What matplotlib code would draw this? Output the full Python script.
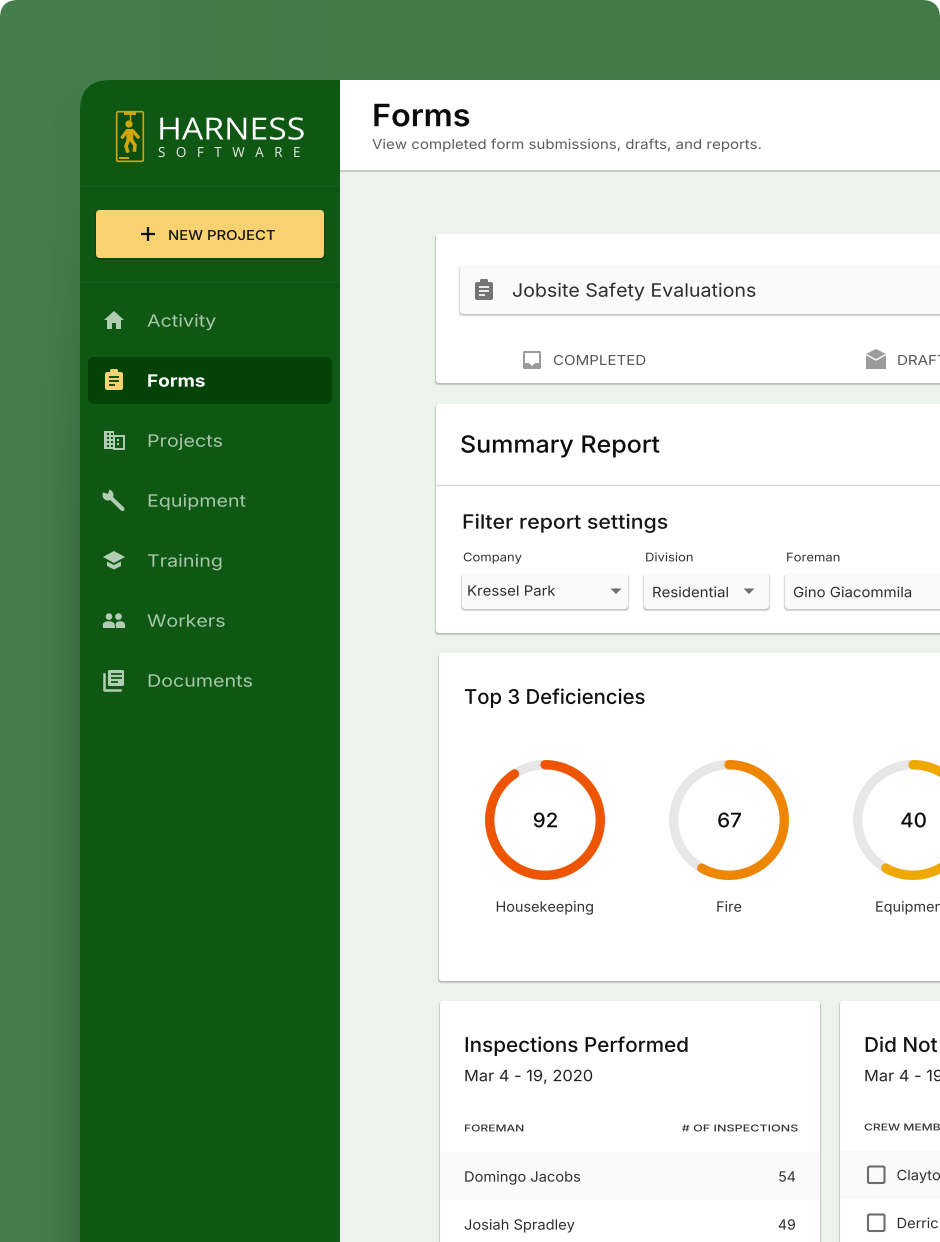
import numpy as np
import matplotlib
matplotlib.use("Agg")
import matplotlib.pyplot as plt
from matplotlib.patches import Rectangle, FancyBboxPatch, Polygon, Circle, Ellipse
from matplotlib.patheffects import AbstractPathEffect
from matplotlib.transforms import Affine2D

plt.rcParams["font.family"] = ["Inter", "DejaVu Sans"]

# sidebar
nav_labels = ["Activity", "Forms", "Projects", "Equipment", "Training", "Workers", "Documents"]
nav_y = [320, 380, 440, 500, 560, 620, 680]

# donuts
donut_labels = ["Housekeeping", "Fire"]
donut_values = [92, 67, 40]
donut_fill = [0.907, 0.582, 0.582]
donut_cx = [545, 729, 913]
donut_colors = ["#ed5503", "#ee8601", "#efa800"]

# filters
filter_labels = ["Company", "Division", "Foreman"]
filter_values = ["Kressel Park", "Residential", "Gino Giacommila"]

# tables
foremen = ["Domingo Jacobs", "Josiah Spradley"]
inspections = [54, 49]
crew = ["Clayto", "Derric"]

GREEN = "#0f5814"
BG = "#edf3ec"


class Widen(AbstractPathEffect):
    # stretches a text sideways around its anchor, stands in for letter spacing
    def __init__(self, x0, sx):
        super().__init__()
        self.x0 = x0
        self.sx = sx

    def draw_path(self, renderer, gc, tpath, affine, rgbFace=None):
        stretch = Affine2D().translate(-self.x0, 0).scale(self.sx, 1).translate(self.x0, 0)
        renderer.draw_path(gc, tpath, affine + stretch, rgbFace)


def rbox(ax, x0, y0, x1, y1, r, color, z=2, shadow=False):
    if shadow:
        for grow, alpha in [(1.6, 0.04), (1.0, 0.07), (0.4, 0.12)]:
            ax.add_patch(FancyBboxPatch((x0 - grow, y0 + 1), x1 - x0 + 2 * grow, y1 - y0 + grow,
                                        boxstyle=f"round,pad=0,rounding_size={r}",
                                        fc="black", ec="none", alpha=alpha, zorder=z))
    ax.add_patch(FancyBboxPatch((x0, y0), x1 - x0, y1 - y0,
                                boxstyle=f"round,pad=0,rounding_size={r}",
                                fc=color, ec="none", zorder=z))


def label(ax, x, y, s, size, color="#111111", ha="left", weight="normal", sx=1.0, family=None):
    # y is the middle of the capitals
    kw = {"family": family} if family else {}
    t = ax.text(x, y + 0.505 * size, s, fontsize=size, color=color, ha=ha, va="baseline",
                fontweight=weight, zorder=10, **kw)
    t.set_path_effects([Widen(x, sx)])
    return t


def hline(ax, x0, x1, y, color, lw):
    ax.plot([x0, x1], [y, y], color=color, lw=lw, zorder=10, solid_capstyle="butt")


def clipboard(ax, cx, cy, color, line):
    rbox(ax, cx - 9, cy - 8, cx + 9, cy + 10, 2, color, z=9)
    rbox(ax, cx - 4, cy - 11, cx + 4, cy - 6, 1.5, color, z=9)
    for dy, w in [(-3, 10), (1, 10), (5, 6)]:
        hline(ax, cx - 5, cx - 5 + w, cy + dy, line, 1.3)


def nav_icon(ax, name, cx, cy, c):
    if name == "Activity":
        ax.add_patch(Polygon([(cx - 10, cy), (cx, cy - 9), (cx + 10, cy), (cx + 7, cy), (cx + 7, cy + 9),
                              (cx + 2, cy + 9), (cx + 2, cy + 3), (cx - 2, cy + 3), (cx - 2, cy + 9),
                              (cx - 7, cy + 9), (cx - 7, cy)], fc=c, ec="none", zorder=9))
    elif name == "Forms":
        clipboard(ax, cx, cy, "#f8d271", "#044207")
    elif name == "Projects":
        ax.add_patch(Rectangle((cx - 10, cy - 9), 10, 18, fc=c, ec="none", zorder=9))
        ax.add_patch(Rectangle((cx, cy - 4), 9.5, 12.5, fc="none", ec=c, lw=1.4, zorder=9))
        for yy in [-6, -2, 2, 6]:
            for xx in [-7, -3]:
                ax.add_patch(Rectangle((cx + xx, cy + yy - 1), 2, 2, fc=GREEN, ec="none", zorder=10))
        for yy in [0, 4]:
            ax.add_patch(Rectangle((cx + 3, cy + yy - 1), 2, 2, fc=c, ec="none", zorder=10))
    elif name == "Equipment":
        ax.plot([cx - 5, cx + 8.5], [cy - 4, cy + 9], color=c, lw=3, zorder=9, solid_capstyle="round")
        ax.add_patch(Circle((cx - 6, cy - 5), 5.5, fc=c, ec="none", zorder=9))
        ax.add_patch(Polygon([(cx - 9, cy - 12), (cx - 4, cy - 12), (cx - 6, cy - 6), (cx - 12, cy - 8)],
                             fc=GREEN, ec="none", zorder=10))
    elif name == "Training":
        ax.add_patch(Polygon([(cx - 11, cy - 3), (cx, cy - 9), (cx + 11, cy - 3), (cx, cy + 3)],
                             fc=c, ec="none", zorder=9))
        ax.add_patch(Polygon([(cx - 7, cy + 1.5), (cx, cy + 5), (cx + 7, cy + 1.5), (cx + 7, cy + 6),
                              (cx, cy + 9.5), (cx - 7, cy + 6)], fc=c, ec="none", zorder=9))
    elif name == "Workers":
        for hx, x0, x1 in [(-5, -11.3, 0.5), (4.5, 1.5, 11)]:
            ax.add_patch(Circle((cx + hx, cy - 3.4), 3.3, fc=c, ec="none", zorder=9))
            ax.add_patch(Ellipse(((2 * cx + x0 + x1) / 2, cy + 4.5), x1 - x0, 6.5, fc=c, ec="none", zorder=9))
            ax.add_patch(Rectangle((cx + x0, cy + 4.5), x1 - x0, 3.2, fc=c, ec="none", zorder=9))
    elif name == "Documents":
        rbox(ax, cx - 6, cy - 10, cx + 10, cy + 6, 1.5, c, z=9)
        ax.plot([cx - 10, cx - 10, cx + 6], [cy - 6, cy + 10, cy + 10], color=c, lw=1.8, zorder=9)
        for dy, w in [(-6, 11), (-2, 11), (2, 7)]:
            hline(ax, cx - 3, cx - 3 + w, cy + dy, GREEN, 1.3)


def donut(ax, cx, cy, value, fill, color):
    t = np.linspace(0, 2 * np.pi, 361)
    ax.plot(cx + 55.3 * np.sin(t), cy - 55.3 * np.cos(t), color="#e7e7e7", lw=6.7, zorder=5)
    t = np.linspace(0, 2 * np.pi * fill, 300)
    ax.plot(cx + 55.3 * np.sin(t), cy - 55.3 * np.cos(t), color=color, lw=6.7, zorder=6,
            solid_capstyle="round")
    label(ax, cx + 0.5, cy, str(value), 14.4, "#0c0c0c", ha="center", weight="medium", sx=1.03)


def caret(ax, cx, cy):
    ax.add_patch(Polygon([(cx - 5.5, cy - 2.5), (cx + 5.5, cy - 2.5), (cx, cy + 3)], fc="#6f6f6f", ec="none", zorder=10))


fig = plt.figure(figsize=(9.4, 12.42), dpi=100)
ax = fig.add_axes([0, 0, 1, 1])
ax.set_xlim(0, 940)
ax.set_ylim(1242, 0)
ax.autoscale(False)
ax.axis("off")

# outer green panel with rounded top corners
panel = FancyBboxPatch((0, 0), 940, 1400, boxstyle="round,pad=0,rounding_size=18",
                       fc="#3f7a47", ec="none", zorder=0)
ax.add_patch(panel)
sheen = np.linspace(1, 0, 64).reshape(1, -1)
im = ax.imshow(np.ones((1, 64)), extent=(0, 500, 1242, 0), aspect="auto", zorder=0.5,
               alpha=sheen * 0.035, cmap="gray", vmin=0, vmax=1)
im.set_clip_path(panel)

# sidebar drop shadow, fades out towards the top
fx = np.linspace(0, 1, 64) ** 2
fy = np.clip(np.linspace(0, 1, 128) * 2.5, 0, 1)
ax.imshow(np.zeros((128, 64)), extent=(20, 80, 1242, 70), aspect="auto", zorder=0.8,
          alpha=np.outer(fy, fx) * 0.13, cmap="gray", vmin=0, vmax=1, origin="upper")

# sidebar and content area
ax.add_patch(FancyBboxPatch((80, 80), 500, 1300, boxstyle="round,pad=0,rounding_size=30",
                            fc=GREEN, ec="none", zorder=1))
ax.add_patch(Rectangle((340, 80), 600, 1170, fc=BG, ec="none", zorder=1.5))

# top bar
ax.add_patch(Rectangle((340, 80), 600, 90, fc="white", ec="none", zorder=2))
ax.plot([340, 940], [170.5, 170.5], color="#c0c4c0", lw=1.2, zorder=2, solid_capstyle="butt")
label(ax, 372, 115, "Forms", 22.2, "#0b0b0b", weight="semibold", sx=1.05)
label(ax, 372, 144, "View completed form submissions, drafts, and reports.", 9.8, "#5c5c5c", sx=1.105)

# logo
GOLD = "#cfa50a"
ax.add_patch(FancyBboxPatch((116.7, 111.7), 26.6, 49.6, boxstyle="round,pad=0,rounding_size=1.5",
                            fc="#0b4f10", ec=GOLD, lw=1.2, zorder=5))
ax.add_patch(Rectangle((124, 111), 12, 3.5, fc=GOLD, ec="none", zorder=6))
ax.add_patch(Circle((129, 124), 3.6, fc=GOLD, ec="none", zorder=6))
ax.plot([129.5, 129.5], [114, 121], color=GOLD, lw=1, zorder=6)
ax.plot([122.5, 127, 133, 138], [137, 131, 131, 137], color=GOLD, lw=2.4, zorder=6)
ax.plot([129.5, 130], [129, 141], color=GOLD, lw=5, zorder=6, solid_capstyle="butt")
ax.plot([128, 126, 127.5], [141, 146, 151], color=GOLD, lw=2.6, zorder=6)
ax.plot([132, 135, 134.5], [141, 145, 150], color=GOLD, lw=2.6, zorder=6)
ax.add_patch(Rectangle((119, 157), 10, 1.5, fc=GOLD, ec="none", zorder=6))
ax.text(157, 139.5, "HARNESS", fontsize=22, color="white", family="Open Sans", va="baseline", zorder=10,
        path_effects=[Widen(157, 1.105)])
ax.text(158, 157, "S   O   F   T   W   A   R   E", fontsize=10, color="#e9efe9", family="Open Sans",
        va="baseline", zorder=10, path_effects=[Widen(158, 0.97)])
ax.plot([80, 340], [185.5, 185.5], color="#175f1c", lw=1.2, zorder=3, solid_capstyle="butt")
ax.plot([80, 340], [281.5, 281.5], color="#175f1c", lw=1.2, zorder=3, solid_capstyle="butt")

# new project button
rbox(ax, 96, 210, 324, 258, 4, "#f8d271", z=3, shadow=True)
ax.plot([148, 148], [227, 241], color="#111111", lw=1.6, zorder=10, solid_capstyle="butt")
ax.plot([141, 155], [234, 234], color="#111111", lw=1.6, zorder=10, solid_capstyle="butt")
label(ax, 168, 235, "NEW PROJECT", 9.8, "#141414", weight="medium", sx=1.09)

# nav
rbox(ax, 88, 357, 332, 404, 6, "#044207", z=3)
for name, y in zip(nav_labels, nav_y):
    active = name == "Forms"
    nav_icon(ax, name, 114, y, "#b3cdb5")
    label(ax, 147, y + 0.5, name, 12.2, "white" if active else "#a9c8ab",
          weight="bold" if active else "normal", sx=1.12 if active else 1.16)

# jobsite card
rbox(ax, 436, 234, 980, 383, 3, "white", shadow=True)
rbox(ax, 460, 265, 980, 314, 4, "#fafafa", z=3, shadow=True)
clipboard(ax, 484, 290, "#747474", "#fafafa")
label(ax, 512, 290, "Jobsite Safety Evaluations", 13.3, "#2d2d2d", sx=1.06)
rbox(ax, 523, 351, 541, 369, 1.5, "#9b9b9b", z=5)
ax.add_patch(Polygon([(525, 353), (539, 353), (539, 363), (535, 363), (532, 366), (529, 363), (525, 363)],
                     fc="white", ec="none", zorder=6))
label(ax, 553, 360, "COMPLETED", 9.8, "#555555", sx=1.11)
ax.add_patch(Polygon([(866, 354), (876, 349), (886, 354), (886, 369), (866, 369)], fc="#9b9b9b", ec="none", zorder=5))
ax.plot([867, 876, 885], [355, 360, 355], color="white", lw=1, zorder=6)
label(ax, 897, 360, "DRAFT", 9.8, "#555555", sx=1.11)

# summary card
rbox(ax, 436, 404, 980, 633, 3, "white", shadow=True)
label(ax, 460, 444, "Summary Report", 17, "#0d0d0d", weight="medium", sx=1.058)
ax.plot([436, 940], [485, 485], color="#d6d6d6", lw=1, zorder=3, solid_capstyle="butt")
label(ax, 462, 521.5, "Filter report settings", 14.2, "#161616", weight="medium", sx=1.08)
filter_x = [(462, 628), (644, 769), (785, 980)]
filter_text_x = [467, 652, 793]
filter_text_y = [590.5, 592, 592]
for (x0, x1), name, val, tx, ty in zip(filter_x, filter_labels, filter_values, filter_text_x, filter_text_y):
    label(ax, x0 + 1, 557, name, 8.6, "#333333", sx=1.09)
    rbox(ax, x0, 573, x1, 609, 4, "#fafafa", z=3, shadow=True)
    label(ax, tx, ty, val, 10.2, "#2f2f2f", sx=1.055)
caret(ax, 616, 591)
caret(ax, 749, 591)

# deficiencies card
rbox(ax, 439, 653, 980, 981, 3, "white", shadow=True)
label(ax, 464, 696.5, "Top 3 Deficiencies", 14.6, "#111111", weight="medium")
for cx, v, f, c in zip(donut_cx, donut_values, donut_fill, donut_colors):
    donut(ax, cx, 820, v, f, c)
for cx, n in zip(donut_cx, donut_labels):
    label(ax, cx, 906.5, n, 10.3, "#333333", ha="center", sx=1.01)
label(ax, 875, 906.5, "Equipmen", 10.1, "#333333", sx=1.03)

# table cards
rbox(ax, 440, 1001, 820, 1300, 3, "white", shadow=True)
rbox(ax, 840, 1001, 1000, 1300, 3, "white", shadow=True)
label(ax, 464, 1044.5, "Inspections Performed", 14.6, "#111111", weight="medium", sx=1.02)
label(ax, 464, 1075.5, "Mar 4 - 19, 2020", 11.2, "#222222", sx=1.055)
label(ax, 464, 1128, "FOREMAN", 6.8, "#333333", weight="medium", sx=1.28)
label(ax, 797, 1128, "# OF INSPECTIONS", 6.8, "#333333", ha="right", weight="medium", sx=1.33)
ax.add_patch(Rectangle((440, 1152), 380, 48, fc="#fafafa", ec="none", zorder=3))
for y, who, n in zip([1176.5, 1224.5], foremen, inspections):
    label(ax, 464, y, who, 10.2, "#2f2f2f", sx=1.035)
    label(ax, 796, y, str(n), 10.2, "#2f2f2f", ha="right")
label(ax, 864, 1044.5, "Did Not", 14.6, "#111111", weight="medium", sx=1.02)
label(ax, 864, 1075.5, "Mar 4 - 19", 11.2, "#222222", sx=1.055)
label(ax, 864, 1127, "CREW MEMB", 6.8, "#333333", weight="medium", sx=1.28)
ax.add_patch(Rectangle((840, 1151), 100, 48, fc="#fafafa", ec="none", zorder=3))
for y, who in zip([1175, 1223], crew):
    ax.add_patch(FancyBboxPatch((868, y - 8.5), 16.5, 16.5, boxstyle="round,pad=0,rounding_size=1.5",
                                fc="none", ec="#6d6d6d", lw=1.5, zorder=5))
    label(ax, 896.5, y, who, 10.2, "#2f2f2f", sx=1.035)

fig.savefig("out.png", dpi=100, facecolor="white")
